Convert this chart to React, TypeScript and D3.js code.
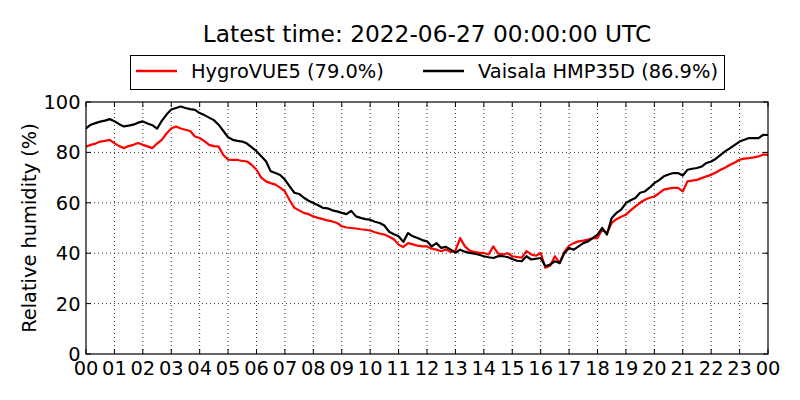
import * as d3 from "d3";

// 10-minute samples, 00:00 .. 24:00 (hours)
const hours: number[] = d3.range(0, 24 + 1e-9, 1 / 6);

const hygroVue: number[] = [
  82.3, 83.0, 83.5, 84.3, 84.6, 85.0,
  83.7, 82.5, 81.7, 82.5, 83.0, 83.7,
  83.0, 82.4, 81.7, 83.5, 85.0, 87.5,
  89.5, 90.3, 89.5, 89.0, 88.5, 86.3,
  85.7, 84.5, 83.0, 82.5, 82.3, 79.0,
  77.1, 77.0, 77.0, 76.6, 76.4, 75.0,
  73.1, 70.0, 68.5, 67.8, 67.2, 66.0,
  64.5, 61.0, 58.0, 57.0, 56.0, 55.5,
  54.6, 54.0, 53.5, 53.0, 52.6, 52.0,
  50.7, 50.2, 50.0, 49.8, 49.5, 49.3,
  49.0, 48.3, 47.8, 47.4, 46.5, 45.5,
  43.4, 42.5, 44.0, 43.5, 43.0, 42.7,
  42.7, 41.8, 41.4, 40.8, 41.5, 40.5,
  41.0, 46.0, 42.7, 41.0, 40.5, 40.1,
  40.1, 39.5, 42.7, 39.8, 39.5, 40.0,
  38.8, 38.5, 38.2, 40.8, 39.5, 39.0,
  40.1, 34.2, 35.0, 38.8, 36.1, 40.5,
  43.0, 44.0, 44.7, 45.0, 45.4, 46.0,
  46.0, 49.3, 48.0, 52.0, 53.5, 54.5,
  55.3, 57.0, 58.6, 60.0, 61.2, 62.0,
  62.5, 63.8, 65.2, 65.6, 65.9, 65.9,
  64.5, 68.5, 68.8, 69.1, 69.8, 70.5,
  71.1, 72.0, 73.1, 74.0, 75.1, 76.0,
  77.1, 77.5, 77.7, 78.0, 78.4, 79.2,
  79.0,
];

const hmp35d: number[] = [
  89.5, 91.0, 91.6, 92.2, 92.6, 93.2,
  92.4, 91.2, 90.3, 90.6, 91.0, 91.8,
  92.3, 91.5, 90.8, 89.4, 92.5, 95.0,
  97.0, 97.6, 98.2, 97.6, 97.2, 96.9,
  95.6, 94.8, 93.8, 92.8, 91.0, 88.5,
  86.0, 85.0, 84.6, 84.3, 83.5, 82.0,
  80.5, 78.5, 76.5, 72.5, 71.8, 71.0,
  69.2, 66.5, 64.0, 63.5, 62.0, 60.8,
  59.9, 59.0, 58.0, 57.8, 57.0, 56.6,
  56.0, 55.5, 56.8, 54.6, 54.0, 53.5,
  53.3, 52.5, 52.0, 51.0, 48.5, 47.5,
  46.7, 44.5, 48.0, 46.7, 46.0, 45.2,
  44.7, 42.7, 44.0, 42.1, 42.5, 41.4,
  40.1, 41.4, 40.6, 40.1, 39.8, 39.4,
  38.8, 38.4, 38.1, 38.8, 38.8, 38.5,
  37.7, 37.0, 36.8, 38.8, 37.5, 37.8,
  38.1, 34.8, 35.5, 36.8, 36.1, 40.0,
  42.1, 41.4, 42.7, 44.0, 44.7, 46.0,
  47.4, 50.0, 47.4, 54.0, 56.0, 57.3,
  59.9, 61.0, 61.9, 64.0, 64.5, 66.0,
  67.8, 69.0, 70.5, 71.2, 71.8, 71.8,
  70.8, 73.1, 73.5, 73.8, 74.4, 75.8,
  76.4, 77.5, 79.0, 80.5, 81.7, 83.0,
  84.3, 85.0, 85.7, 85.7, 85.7, 87.0,
  86.9,
];

const xTicks: number[] = d3.range(0, 25);
const xTickLabels: string[] = xTicks.map((h) => String(h % 24).padStart(2, "0"));
const yTicks: number[] = [0, 20, 40, 60, 80, 100];

const series = [
  { name: "HygroVUE5 (79.0%)", color: "#ff0000", values: hygroVue },
  { name: "Vaisala HMP35D (86.9%)", color: "#000000", values: hmp35d },
];

const width = 800;
const height = 400;
const margin = { top: 102, right: 32, bottom: 46, left: 86 };
const font = "'DejaVu Sans', sans-serif";

export default function App() {
  const x = d3
    .scaleLinear()
    .domain([0, 24])
    .range([margin.left, width - margin.right]);
  const y = d3
    .scaleLinear()
    .domain([0, 100])
    .range([height - margin.bottom, margin.top]);

  const line = d3
    .line<number>()
    .x((_d, i) => x(hours[i]))
    .y((d) => y(d));

  const [x0, x1] = x.range();
  const [y0, y1] = y.range();

  return (
    <svg
      width={width}
      height={height}
      style={{ position: "absolute", left: 0, top: 0, background: "#fff" }}
      fontFamily={font}
    >
      <text x={427} y={42} fontSize={23.3} textAnchor="middle">
        Latest time: 2022-06-27 00:00:00 UTC
      </text>

      {/* legend */}
      <rect x={130.5} y={55.5} width={594} height={34} fill="#fff" stroke="#000" strokeWidth={1} />
      {series.map((s, i) => {
        const lx = i === 0 ? 136 : 423;
        const tx = i === 0 ? 191 : 478;
        return (
          <g key={s.name}>
            <line x1={lx} x2={lx + 41} y1={71} y2={71} stroke={s.color} strokeWidth={2.5} />
            <text x={tx} y={78} fontSize={19.4}>
              {s.name}
            </text>
          </g>
        );
      })}

      {/* grid */}
      <g stroke="#000" strokeWidth={0.8} strokeDasharray="1,3">
        {xTicks.slice(1, -1).map((t) => (
          <line key={"gx" + t} x1={x(t)} x2={x(t)} y1={y0} y2={y1} />
        ))}
        {yTicks.slice(1, -1).map((t) => (
          <line key={"gy" + t} x1={x0} x2={x1} y1={y(t)} y2={y(t)} />
        ))}
      </g>

      {/* data */}
      <defs>
        <clipPath id="plot">
          <rect x={x0} y={y1} width={x1 - x0} height={y0 - y1} />
        </clipPath>
      </defs>
      <g clipPath="url(#plot)">
        {series.map((s) => (
          <path
            key={s.name}
            d={line(s.values) ?? ""}
            fill="none"
            stroke={s.color}
            strokeWidth={2.2}
            strokeLinejoin="round"
          />
        ))}
      </g>

      {/* ticks, inward on all sides */}
      <g stroke="#000" strokeWidth={1}>
        {xTicks.map((t) => (
          <g key={"tx" + t}>
            <line x1={x(t)} x2={x(t)} y1={y0} y2={y0 - 5} />
            <line x1={x(t)} x2={x(t)} y1={y1} y2={y1 + 5} />
          </g>
        ))}
        {yTicks.map((t) => (
          <g key={"ty" + t}>
            <line x1={x0} x2={x0 + 5} y1={y(t)} y2={y(t)} />
            <line x1={x1} x2={x1 - 5} y1={y(t)} y2={y(t)} />
          </g>
        ))}
      </g>
      <rect x={x0} y={y1} width={x1 - x0} height={y0 - y1} fill="none" stroke="#000" strokeWidth={1.2} />

      {/* tick labels */}
      {xTicks.map((t, i) => (
        <text key={"lx" + t} x={x(t)} y={375} fontSize={19.4} textAnchor="middle">
          {xTickLabels[i]}
        </text>
      ))}
      {yTicks.map((t) => (
        <text key={"ly" + t} x={x0 - 5.5} y={y(t)} dy="0.36em" fontSize={19.4} textAnchor="end">
          {t}
        </text>
      ))}

      <text
        transform={`translate(36,${(y0 + y1) / 2}) rotate(-90)`}
        fontSize={19.4}
        textAnchor="middle"
      >
        Relative humidity (%)
      </text>
    </svg>
  );
}
